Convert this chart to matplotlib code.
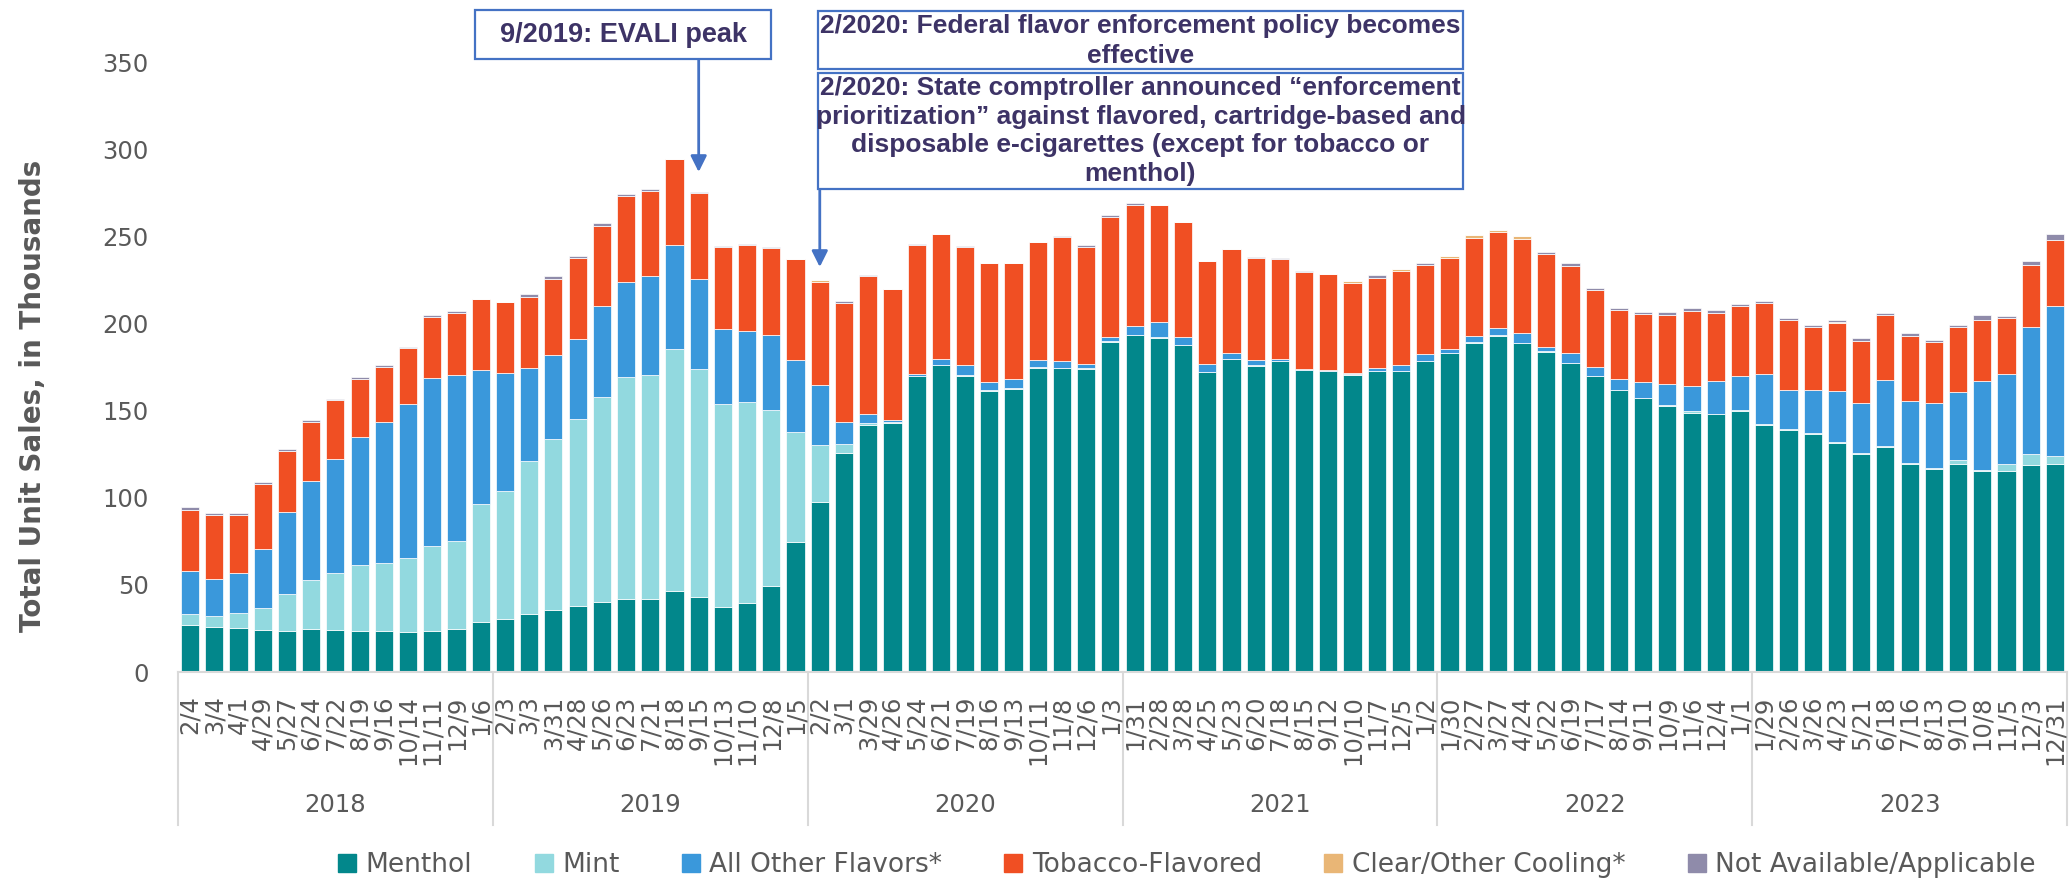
import matplotlib
matplotlib.use("Agg")
import matplotlib.pyplot as plt
from matplotlib.lines import Line2D
from matplotlib.patches import Rectangle
import matplotlib.transforms as mtransforms
import numpy as np

# ---------------- data ----------------
years = ["2018", "2019", "2020", "2021", "2022", "2023"]
dates = [
    "2/4", "3/4", "4/1", "4/29", "5/27", "6/24", "7/22", "8/19", "9/16", "10/14", "11/11", "12/9", "1/6",
    "2/3", "3/3", "3/31", "4/28", "5/26", "6/23", "7/21", "8/18", "9/15", "10/13", "11/10", "12/8", "1/5",
    "2/2", "3/1", "3/29", "4/26", "5/24", "6/21", "7/19", "8/16", "9/13", "10/11", "11/8", "12/6", "1/3",
    "1/31", "2/28", "3/28", "4/25", "5/23", "6/20", "7/18", "8/15", "9/12", "10/10", "11/7", "12/5", "1/2",
    "1/30", "2/27", "3/27", "4/24", "5/22", "6/19", "7/17", "8/14", "9/11", "10/9", "11/6", "12/4", "1/1",
    "1/29", "2/26", "3/26", "4/23", "5/21", "6/18", "7/16", "8/13", "9/10", "10/8", "11/5", "12/3", "12/31",
]

menthol = [
    27.0, 26.0, 25.4, 24.3, 23.5, 24.7, 24.1, 23.7, 23.7, 23.1, 23.7, 24.5, 28.7,
    30.4, 33.1, 35.6, 38.0, 40.0, 41.9, 41.9, 46.7, 43.0, 37.1, 39.6, 49.5, 74.4,
    97.7, 125.4, 141.5, 142.9, 169.7, 176.1, 170.0, 161.4, 162.4, 174.6, 174.2, 174.0, 189.5,
    193.2, 191.8, 187.4, 171.9, 179.4, 175.7, 178.2, 173.1, 172.5, 170.6, 172.5, 172.5, 178.2,
    182.8, 189.0, 193.0, 188.6, 183.6, 177.1, 169.6, 161.6, 157.0, 152.8, 148.8, 147.8, 149.7,
    141.9, 139.0, 136.4, 131.4, 125.2, 129.1, 119.3, 116.6, 119.1, 115.1, 115.3, 118.9, 119.1,
]
mint = [
    6.3, 6.3, 8.5, 12.2, 21.1, 27.9, 32.5, 37.7, 38.8, 42.5, 48.5, 50.6, 67.5,
    73.4, 87.9, 97.9, 107.2, 117.8, 127.2, 128.5, 138.4, 130.8, 116.5, 115.1, 100.7, 63.1,
    32.5, 5.4, 1.5, 0.3, 0.3, 0.3, 0.3, 0.3, 0.3, 0.3, 0.3, 0.3, 0.3,
    0.3, 0.3, 0.3, 0.3, 0.3, 0.3, 0.3, 0.3, 0.3, 0.3, 0.3, 0.3, 0.3,
    0.3, 0.3, 0.3, 0.3, 0.3, 0.3, 0.3, 0.3, 0.3, 0.3, 0.7, 0.5, 0.5,
    0.5, 0.5, 0.5, 0.5, 0.5, 0.5, 0.5, 0.5, 2.7, 0.8, 4.0, 6.2, 4.8,
]
other_flavors = [
    24.6, 21.1, 22.9, 34.1, 47.2, 56.8, 65.4, 73.6, 80.9, 88.0, 96.5, 95.3, 77.1,
    67.7, 53.4, 48.2, 45.7, 52.4, 54.8, 57.0, 59.7, 51.7, 43.2, 40.9, 42.9, 41.5,
    34.5, 12.8, 4.8, 1.2, 1.0, 3.0, 5.6, 4.9, 5.4, 4.3, 3.7, 2.7, 2.2,
    4.9, 8.7, 4.3, 4.3, 3.1, 3.0, 1.1, 0.4, 0.5, 0.5, 1.4, 3.1, 3.9,
    2.0, 3.7, 4.3, 5.4, 2.7, 5.6, 5.1, 6.0, 9.3, 12.4, 14.6, 18.6, 19.8,
    28.6, 22.3, 24.7, 29.5, 28.6, 38.1, 35.5, 37.1, 39.0, 51.3, 51.7, 73.0, 86.1,
]
tobacco = [
    35.3, 36.5, 33.3, 37.3, 35.2, 34.0, 34.2, 33.1, 31.8, 32.3, 35.2, 35.8, 40.7,
    40.6, 40.9, 44.0, 46.4, 45.9, 49.4, 48.6, 49.5, 49.5, 47.2, 49.6, 50.4, 58.0,
    59.2, 67.9, 79.6, 75.3, 74.2, 71.7, 68.1, 67.8, 66.5, 67.3, 71.5, 66.7, 69.3,
    69.7, 67.1, 66.0, 59.1, 59.9, 58.8, 57.6, 55.9, 55.1, 52.0, 52.1, 54.1, 50.9,
    52.4, 56.2, 54.8, 54.1, 53.4, 50.1, 44.0, 40.0, 39.0, 39.3, 43.2, 39.3, 40.2,
    40.7, 40.3, 36.5, 39.0, 35.8, 36.9, 37.7, 34.9, 37.0, 34.6, 32.0, 35.3, 37.9,
]
clear_cooling = [
    0, 0, 0, 0, 0, 0, 0, 0, 0, 0, 0, 0, 0,
    0, 0, 0, 0, 0, 0, 0, 0, 0, 0, 0, 0, 0,
    1.0, 0, 0, 0, 0, 0, 0, 0, 0, 0, 0, 0, 0,
    0, 0, 0, 0, 0, 0, 0, 0, 0, 0.9, 0, 1.1, 0,
    1.2, 1.3, 1.3, 1.6, 0, 0, 0, 0, 0, 0, 0, 0, 0,
    0, 0, 0, 0.4, 0, 0, 0, 0, 0, 0, 0, 0, 0,
]
not_available = [
    1.2, 1.1, 1.3, 0.9, 1.0, 1.0, 0.3, 1.2, 0.9, 0.3, 1.1, 0.9, 0.3,
    0.0, 1.3, 1.3, 1.4, 1.3, 0.9, 0.9, 0.2, 0.2, 0.2, 0.2, 0.2, 0.2,
    0.0, 1.2, 0.2, 0.2, 0.2, 0.2, 0.2, 0.2, 0.2, 0.2, 0.2, 1.1, 1.1,
    1.2, 0.2, 0.2, 0.2, 0.2, 0.2, 0.2, 0.2, 0.2, 0.0, 1.3, 0.0, 1.1,
    0.0, 0.0, 0.0, 0.0, 1.2, 1.6, 1.3, 1.2, 1.2, 1.5, 1.4, 1.3, 1.2,
    1.3, 1.2, 1.2, 1.1, 1.3, 1.3, 1.5, 1.5, 1.3, 3.0, 1.3, 2.3, 3.4,
]

series_names = ["Menthol", "Mint", "All Other Flavors*", "Tobacco-Flavored",
                "Clear/Other Cooling*", "Not Available/Applicable"]
series_values = [menthol, mint, other_flavors, tobacco, clear_cooling, not_available]
series_colors = ["#02878B", "#92D9DF", "#3A98DB", "#F04F23", "#E9B676", "#8F8BAA"]

evali_text = "9/2019: EVALI peak"
federal_text = "2/2020: Federal flavor enforcement policy becomes\neffective"
state_text = ("2/2020: State comptroller announced \u201cenforcement\n"
              "prioritization\u201d against flavored, cartridge-based and\n"
              "disposable e-cigarettes (except for tobacco or\nmenthol)")

# ---------------- figure ----------------
W, H = 2070, 880
fig = plt.figure(figsize=(W / 100, H / 100), dpi=100)
ax_l, ax_r, ax_t, ax_b = 178, 2067, 62, 672
ax = fig.add_axes([ax_l / W, 1 - ax_b / H, (ax_r - ax_l) / W, (ax_b - ax_t) / H])

x = np.arange(len(dates))
bottom = np.zeros(len(dates))
for name, vals, col in zip(series_names, series_values, series_colors):
    v = np.array(vals, dtype=float)
    ax.bar(x, v, bottom=bottom, width=0.75, color=col, edgecolor="white",
           linewidth=0.5, label=name, zorder=2)
    bottom += v

ax.set_xlim(-0.5, len(dates) - 0.5)
ax.set_ylim(0, 350)
ax.set_yticks(np.arange(0, 351, 50))
for s in ["top", "right", "left"]:
    ax.spines[s].set_visible(False)
ax.spines["bottom"].set_color("#D9D9D9")
ax.spines["bottom"].set_linewidth(1.5)

gray = "#595959"
ax.tick_params(axis="y", length=0, pad=21, labelsize=17.5, labelcolor=gray)
ax.set_xticks(x)
ax.set_xticklabels(dates, rotation=90, fontsize=17.5, color=gray)
ax.tick_params(axis="x", length=0, pad=17)

# year group separators and labels
trans = mtransforms.blended_transform_factory(ax.transData, ax.transAxes)
n_per = 13
depth = (825 - ax_b) / (ax_b - ax_t)
ylab = (805 - ax_b) / (ax_b - ax_t)
for k in range(len(years) + 1):
    xs = k * n_per - 0.5
    ax.plot([xs, xs], [0, -depth], transform=trans, color="#D9D9D9", lw=1.5,
            clip_on=False, zorder=1)
for k, yr in enumerate(years):
    ax.text(k * n_per + (n_per - 1) / 2, -ylab, yr, transform=trans, ha="center",
            va="center", fontsize=17.5, color=gray)

fig.text(33 / W, 1 - 396 / H, "Total Unit Sales, in Thousands", rotation=90,
         ha="center", va="center", fontsize=20, fontweight="bold", color=gray)

# legend
handles = [Line2D([], [], marker="s", linestyle="none", markersize=13.5,
                  markerfacecolor=c, markeredgecolor=c) for c in series_colors]
leg = fig.legend(handles, series_names, loc="center", bbox_to_anchor=(0.573, 0.017),
                 ncol=6, frameon=False, fontsize=19, handletextpad=0.3,
                 columnspacing=2.3, handlelength=0.8)
for t in leg.get_texts():
    t.set_color(gray)

# annotation boxes
box_col = "#4472C4"
txt_col = "#3D3366"


def fig_box(x0, y0, x1, y1):
    r = Rectangle((x0 / W, 1 - y1 / H), (x1 - x0) / W, (y1 - y0) / H,
                  transform=fig.transFigure, facecolor="white", edgecolor=box_col,
                  linewidth=1.6, zorder=5)
    fig.patches.append(r)


fig_box(475, 10, 771, 59)
fig.text((475 + 771) / 2 / W, 1 - 35 / H, evali_text, ha="center", va="center",
         fontsize=19.5, fontweight="bold", color=txt_col, family="Liberation Sans", zorder=6)
fig_box(818, 11, 1463, 69)
fig.text((818 + 1463) / 2 / W, 1 - 41 / H, federal_text, ha="center", va="center",
         fontsize=19, fontweight="bold", color=txt_col, family="Liberation Sans",
         linespacing=1.34, zorder=6)
fig_box(818, 73, 1463, 189)
fig.text((818 + 1463) / 2 / W, 1 - 131 / H, state_text, ha="center", va="center",
         fontsize=19, fontweight="bold", color=txt_col, family="Liberation Sans",
         linespacing=1.23, zorder=6)


def px_to_val(py):
    return (ax_b - py) / (ax_b - ax_t) * 350


arrow = dict(arrowstyle="-|>", color=box_col, lw=2, mutation_scale=24,
             shrinkA=0, shrinkB=0)
ax.annotate("", xy=(21, px_to_val(172)), xytext=(21, px_to_val(59)),
            arrowprops=arrow, annotation_clip=False)
ax.annotate("", xy=(26, px_to_val(267)), xytext=(26, px_to_val(189)),
            arrowprops=arrow, annotation_clip=False)

fig.savefig("out.png", dpi=100)
